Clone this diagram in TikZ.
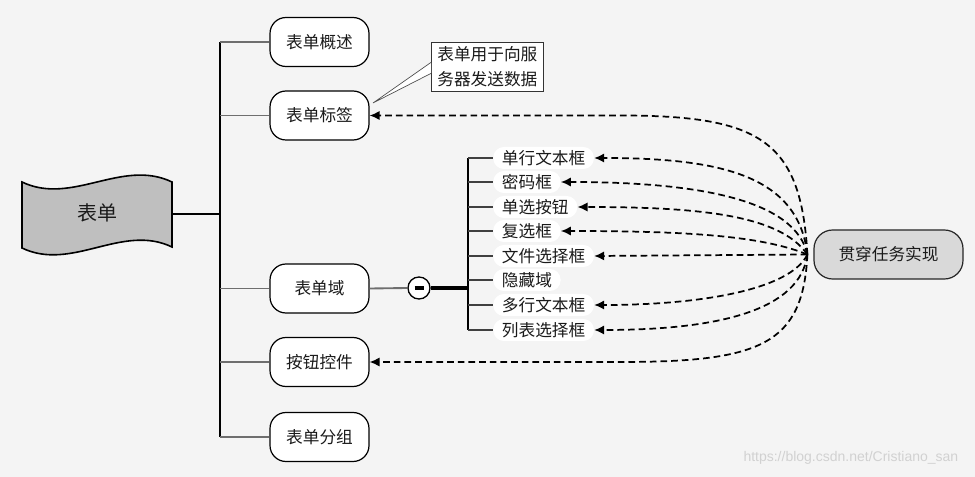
\documentclass[tikz,border=0pt]{standalone}
\usepackage{fontspec}
\setmainfont{Liberation Sans}
\newfontfamily\cjk{Noto Sans CJK SC}
\usetikzlibrary{arrows.meta,calc}
\definecolor{bg}{HTML}{F4F4F4}
\definecolor{flagc}{HTML}{BFBFBF}
\definecolor{hubc}{HTML}{D9D9D9}
\definecolor{linegray}{HTML}{6E6E6E}
\definecolor{txt}{HTML}{1A1A1A}
\begin{document}
\begin{tikzpicture}[x=0.75pt,y=-0.75pt,
  cjkfont/.style={font=\cjk\fontsize{12.5}{18.5}\selectfont, text=txt},
  branchbox/.style={cjkfont, draw=black, line width=0.9pt, fill=white, rounded corners=12pt,
    minimum width=74.25pt, minimum height=36.75pt, inner sep=0pt},
  hubbox/.style={cjkfont, draw=black!85, line width=0.9pt, fill=hubc, rounded corners=14pt,
    minimum width=111.75pt, minimum height=36.75pt, inner sep=0pt},
  pill/.style={cjkfont, fill=white, rounded corners=8pt, inner xsep=6.5pt, inner ysep=0pt,
    minimum height=16.5pt, anchor=west},
  trunkline/.style={black, line width=0.8pt},
  branchline/.style={linegray, line width=1.4pt},
  subline/.style={black!75, line width=1.3pt},
  dasharrow/.style={-{Latex[length=7.5pt,width=7pt]}, black, line width=1.3pt, dash pattern=on 5pt off 3pt},
]
\useasboundingbox (0,0) rectangle (975,477);
\fill[bg] (0,0) rectangle (975,477);

% flag
\draw[fill=flagc, line width=1.2pt] (22,182) .. controls (72,206) and (122,158) .. (172,182)
  -- (172,247) .. controls (122,223) and (72,272) .. (22,248) -- cycle;
\node[font=\cjk\fontsize{15}{18}\selectfont, text=txt] (flag) at (97,213) {表单};
\coordinate (flagE) at (172,214);

% trunk
\coordinate (t1) at (220,42);
\coordinate (t5) at (220,437);
\draw[trunkline] (t1) -- (t5);
\draw[black, line width=1.6pt] (flagE) -- (flagE -| t1);

% branch boxes
\node[branchbox] (b1) at (319.5,42) {表单概述};
\node[branchbox] (b2) at (319.5,115.5) {表单标签};
\node[branchbox] (b3) at (319.5,288.5) {表单域};
\node[branchbox] (b4) at (319.5,362) {按钮控件};
\node[branchbox] (b5) at (319.5,437) {表单分组};
\foreach \b in {b1,b2,b3,b4,b5} \draw[branchline] (t1 |- \b.west) -- (\b.west);

% callout
\coordinate (tip) at (373,103);
\node[cjkfont, draw=black!80, line width=0.6pt, fill=white, align=left, anchor=north west,
  inner xsep=4.5pt, inner ysep=2.5pt, text width=75pt, minimum height=36.75pt] (co) at (431,42)
  {表单用于向服\\务器发送数据};
\draw[black!70, line width=0.5pt, fill=white] ($(co.west)+(0,-4.5)$) -- (tip) -- ($(co.west)+(0,6.5)$);

% collapse circle
\node[circle, draw=black, line width=1pt, fill=white, minimum size=16.5pt, inner sep=0pt] (cm) at (419,288) {};
\draw[black, line width=2.6pt] ($(cm.center)+(-4.5,0)$) -- ($(cm.center)+(4.5,0)$);
\draw[branchline] (b3.east) -- (cm.west);

% sub items
\coordinate (st1) at (468,158);
\coordinate (st8) at (468,330);
\draw[black, line width=1.2pt] (st1) -- (st8);
\draw[black, line width=2.4pt] (cm.east) -- (cm.east -| st1);
\node[pill] (s1) at (493,158) {单行文本框};
\node[pill] (s2) at (493,182) {密码框};
\node[pill] (s3) at (493,207) {单选按钮};
\node[pill] (s4) at (493,231) {复选框};
\node[pill] (s5) at (493,256) {文件选择框};
\node[pill] (s6) at (493,280) {隐藏域};
\node[pill] (s7) at (493,305) {多行文本框};
\node[pill] (s8) at (493,330) {列表选择框};
\foreach \s in {s1,s2,s3,s4,s5,s6,s7,s8} \draw[subline] (st1 |- \s.west) -- (\s.west);

% hub
\node[hubbox] (gc) at (888.5,254.5) {贯穿任务实现};
\coordinate (hub) at ($(gc.west)+(-6,0)$);

\draw[dasharrow] (hub) .. controls (801,140) and (760,115.5) .. (620,115.5) -- (b2.east);
\draw[dasharrow] (hub) .. controls (798,175) and (720,158) .. (s1.east);
\draw[dasharrow] (hub) .. controls (795,200) and (700,182) .. (s2.east);
\draw[dasharrow] (hub) .. controls (780,215) and (700,207) .. (s3.east);
\draw[dasharrow] (hub) .. controls (760,235) and (680,231) .. (s4.east);
\draw[dasharrow] (hub) -- (s5.east);
\draw[dasharrow] (hub) .. controls (790,290) and (700,305) .. (s7.east);
\draw[dasharrow] (hub) .. controls (800,310) and (720,330) .. (s8.east);
\draw[dasharrow] (hub) .. controls (803,345) and (760,362) .. (620,362) -- (b4.east);

% watermark
\node[font=\fontsize{10.5}{12}\selectfont, text=black!18, anchor=east] (wm) at (963,458) {https://blog.csdn.net/Cristiano\_san};
\end{tikzpicture}
\end{document}
